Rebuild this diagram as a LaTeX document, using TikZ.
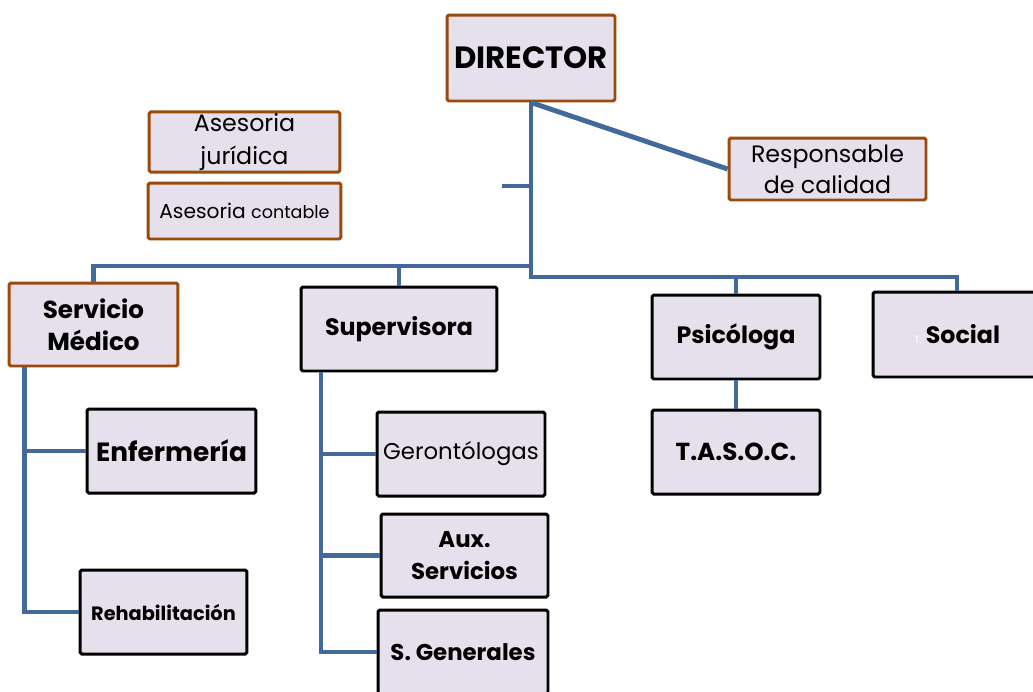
\documentclass[tikz,border=0pt]{standalone}
\usepackage{fontspec}
\setmainfont{Poppins}
\usetikzlibrary{positioning}
\definecolor{boxfill}{HTML}{E5E0EC}
\definecolor{rust}{HTML}{9A4A0A}
\definecolor{linkblue}{HTML}{41699B}
\newcommand{\fsz}[2]{\fontsize{#1}{#2}\selectfont}

\begin{document}
\begin{tikzpicture}[
  x=0.02cm, y=-0.02cm,
  box/.style={
    draw, fill=boxfill, line width=1.7pt, rounded corners=1pt, align=center,
    inner sep=1pt, minimum width=3.36cm, minimum height=1.68cm},
  rustbox/.style={box, draw=rust},
  darkbox/.style={box, draw=black},
  link/.style={draw=linkblue, line width=2.8pt},
  sublink/.style={draw=linkblue, line width=2.3pt}
]

  \useasboundingbox (0,0) rectangle (1033,691);

  % top level
  \node[rustbox, minimum height=1.72cm, font=\fsz{17.5pt}{21pt}\bfseries] (director) at (531,58)
    {DIRECTOR};
  \node[rustbox, minimum width=3.82cm, minimum height=1.2cm, font=\fsz{13.5pt}{18.5pt}] (juridica) at (244.5,142)
    {Asesoria\\jurídica};
  \node[rustbox, minimum width=3.86cm, minimum height=1.12cm, font=\fsz{11.5pt}{14pt}] (contable) at (244.5,211)
    {Asesoria {\fsz{10pt}{14pt}contable}};
  \node[rustbox, minimum width=3.94cm, minimum height=1.24cm, font=\fsz{13.5pt}{17.5pt}] (calidad) at (827.5,169)
    {Responsable\\de calidad};

  % second level
  \node[rustbox, minimum width=3.38cm, minimum height=1.66cm, font=\fsz{14pt}{18.5pt}\bfseries] (medico) at (93.5,324.5)
    {Servicio\\Médico};
  \node[darkbox, minimum width=3.92cm, font=\fsz{13.5pt}{17pt}\bfseries] (supervisora) at (399,329)
    {Supervisora};
  \node[darkbox, font=\fsz{13.5pt}{17pt}\bfseries] (psicologa) at (736,337)
    {Psicóloga};
  \node[darkbox, minimum height=1.7cm, font=\fsz{13.5pt}{17pt}\bfseries] (social) at (957,334.5)
    {{\color{white}\mdseries\fsz{6pt}{8pt}T.}\,Social};

  % third level
  \node[darkbox, minimum width=3.38cm, font=\fsz{15pt}{19pt}\bfseries] (enfermeria) at (171.5,451)
    {Enfermería};
  \node[darkbox, minimum width=3.34cm, font=\fsz{11pt}{15pt}\bfseries] (rehab) at (163.5,612)
    {Rehabilitación};
  \node[darkbox, font=\fsz{13pt}{16pt}] (geronto) at (461,454)
    {Gerontólogas};
  \node[darkbox, minimum width=3.34cm, minimum height=1.66cm, font=\fsz{13pt}{18pt}\bfseries] (aux) at (464.5,555.5)
    {Aux.\\Servicios};
  \node[darkbox, minimum width=3.4cm, font=\fsz{13pt}{17pt}\bfseries] (generales) at (463,652)
    {S. Generales};
  \node[darkbox, font=\fsz{14pt}{17pt}\bfseries] (tasoc) at (736,452)
    {T.A.S.O.C.};

  % bus lines
  \coordinate (leftbus) at (531,266);
  \coordinate (rightbus) at (531,277);
  \coordinate (tick) at (502,186);
  \coordinate (medtop) at ([xshift=0.34cm] medico.south west);
  \coordinate (suptop) at ([xshift=0.42cm] supervisora.south west);

  \draw[link] (director.south) -- (rightbus) -| (social.north);
  \draw[link] (rightbus) -| (psicologa.north);
  \draw[link] (leftbus) -| (medico.north);
  \draw[link] (leftbus) -| (supervisora.north);
  \draw[link] (tick) -- (tick -| director.south);
  \draw[link] (director.south) -- (calidad.west);

  \draw[sublink] (medtop) |- (rehab.west);
  \draw[sublink] (medtop |- enfermeria.west) -- (enfermeria.west);
  \draw[sublink] (suptop) |- (generales.west);
  \draw[sublink] (suptop |- geronto.west) -- (geronto.west);
  \draw[sublink] (suptop |- aux.west) -- (aux.west);
  \draw[sublink] (psicologa.south) -- (tasoc.north);

\end{tikzpicture}
\end{document}
